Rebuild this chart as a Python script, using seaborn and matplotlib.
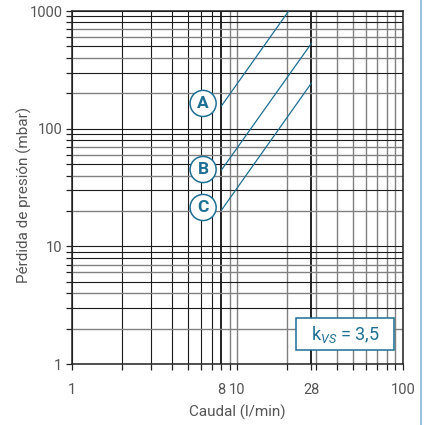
import numpy as np
import pandas as pd
import matplotlib
matplotlib.use("Agg")
import matplotlib.pyplot as plt
import matplotlib.ticker as mticker
from matplotlib.patches import Rectangle
from matplotlib import font_manager
import seaborn as sns

# datos (caudal l/min, perdida mbar)
caudal_A = [8, 20.4]
perdida_A = [156, 1000]
caudal_B = [8, 28]
perdida_B = [44.5, 531]
caudal_C = [8, 28]
perdida_C = [20.3, 244]
curvas = ["A", "B", "C"]
# posicion de las etiquetas circulares
etiqueta_x = [6.2, 6.2, 6.2]
etiqueta_y = [164, 45, 21.4]

x_ticks = [1, 8, 10, 28, 100]
y_ticks = [1, 10, 100, 1000]
kvs_texto = r"k$_{VS}$ = 3,5"

AZUL = "#1d6f93"
GRIS_TXT = "#555555"

sns.set_theme(style="white")
nombres = {f.name for f in font_manager.fontManager.ttflist}
fam = "Liberation Sans Narrow" if "Liberation Sans Narrow" in nombres else "Roboto"
plt.rcParams["font.family"] = [fam, "DejaVu Sans"]
plt.rcParams["mathtext.fontset"] = "custom"
plt.rcParams["mathtext.it"] = fam + ":italic"
plt.rcParams["mathtext.rm"] = fam

df = pd.concat([
    pd.DataFrame({"caudal": caudal_A, "perdida": perdida_A, "curva": "A"}),
    pd.DataFrame({"caudal": caudal_B, "perdida": perdida_B, "curva": "B"}),
    pd.DataFrame({"caudal": caudal_C, "perdida": perdida_C, "curva": "C"}),
])

fig = plt.figure(figsize=(4.24, 4.25), dpi=100)
ax = fig.add_axes([0.170, 0.1435, 0.780, 0.8305])
ax.set_xscale("log")
ax.set_yscale("log")
ax.set_xlim(1, 100)
ax.set_ylim(1, 1000)

# rejilla
gx = list(range(1, 10)) + list(range(10, 101, 10)) + [28]
for v in gx:
    if v in (8, 28):
        ax.axvline(v, color="#111111", lw=1.3, zorder=1)
    elif v <= 7:
        ax.axvline(v, color="#1a1a1a", lw=0.8, zorder=1)
    else:
        ax.axvline(v, color="#808080", lw=1.0, zorder=1)
gy = [m * d for d in (1, 10, 100) for m in range(1, 10)] + [1000]
for v in gy:
    m = round(v / 10 ** np.floor(np.log10(v) + 1e-9))
    if m in (1, 3, 5, 8, 9):
        ax.axhline(v, color="#1a1a1a", lw=0.8, zorder=1)
    else:
        ax.axhline(v, color="#808080", lw=1.0, zorder=1)

sns.lineplot(data=df, x="caudal", y="perdida", units="curva", estimator=None,
             color=AZUL, lw=0.9, ax=ax, zorder=3, legend=False)

for nom, xx, yy in zip(curvas, etiqueta_x, etiqueta_y):
    ax.text(xx, yy, nom, color=AZUL, fontsize=12.5, fontweight="bold",
            ha="center", va="center", zorder=5,
            bbox=dict(boxstyle="circle,pad=0.32", fc="white", ec=AZUL, lw=1.1))

ax.add_patch(Rectangle((0.677, 0.040), 0.296, 0.0907, transform=ax.transAxes,
                       fc="white", ec=AZUL, lw=1.1, zorder=5))
ax.text(0.825, 0.083, kvs_texto, transform=ax.transAxes, color=AZUL,
        fontsize=13, ha="center", va="center", zorder=6)

ax.xaxis.set_major_locator(mticker.FixedLocator(x_ticks))
ax.xaxis.set_major_formatter(mticker.FixedFormatter([str(t) for t in x_ticks]))
ax.xaxis.set_minor_locator(mticker.FixedLocator([v for v in gx if v not in x_ticks]))
ax.xaxis.set_minor_formatter(mticker.NullFormatter())
ax.yaxis.set_major_locator(mticker.FixedLocator(y_ticks))
ax.yaxis.set_major_formatter(mticker.FixedFormatter([str(t) for t in y_ticks]))
ax.yaxis.set_minor_locator(mticker.FixedLocator([v for v in gy if v not in y_ticks]))
ax.yaxis.set_minor_formatter(mticker.NullFormatter())
ax.tick_params(which="both", direction="out", length=4, width=0.9, color="#222222",
               labelsize=10.5, labelcolor=GRIS_TXT, pad=3, bottom=True, left=True)
ax.tick_params(axis="x", which="major", pad=10)

for s in ax.spines.values():
    s.set_color("#222222")
    s.set_linewidth(1.1)

ax.set_xlabel("Caudal (l/min)", fontsize=11, color=GRIS_TXT, labelpad=5)
ax.set_ylabel("Pérdida de presión (mbar)", fontsize=11, color=GRIS_TXT)
ax.yaxis.set_label_coords(-0.121, 0.479)

fig.add_artist(plt.Line2D([0.992, 0.992], [0, 1], transform=fig.transFigure,
                          color="#9cc3de", lw=1.5))

fig.savefig("out.png", dpi=100)
